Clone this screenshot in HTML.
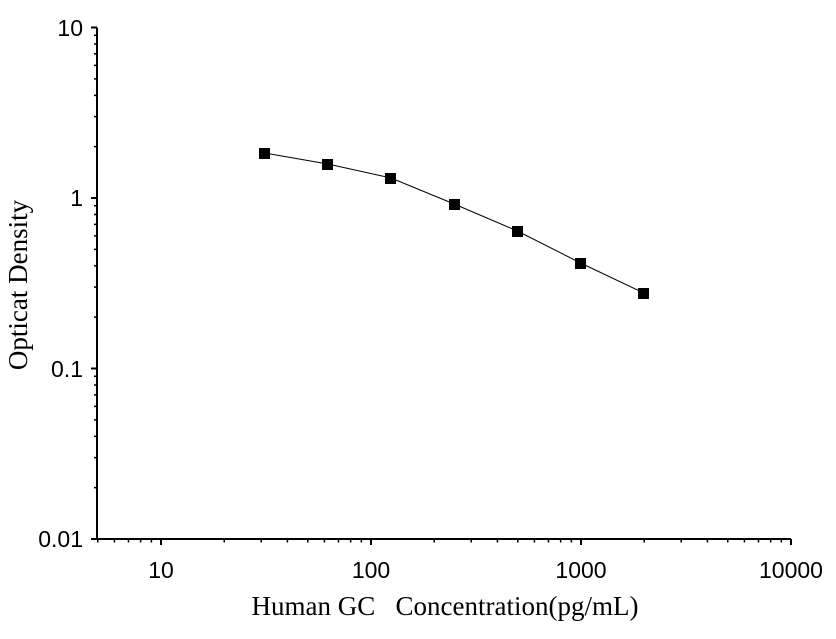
<!DOCTYPE html>
<html><head><style>body{margin:0;background:#fff}</style></head><body>
<svg width="836" height="634" xmlns="http://www.w3.org/2000/svg">
<g stroke="#000" stroke-width="2" fill="none">
<path d="M97,27.5V539H791"/>
<path d="M91,27.5H97M91,198H97M91,368.5H97M91,539H97"/>
<path d="M161,539v6M371,539v6M581,539v6M791,539v6"/>
</g>
<g id="minor" stroke="#000" stroke-width="1.5"></g>
<polyline fill="none" stroke="#000" stroke-width="1" points="264.6,153 327.8,164 391,178 454.2,204 517.4,231 580.6,263 643.8,293"/>
<g fill="#000">
<rect x="259" y="148" width="11" height="11"/><rect x="322" y="159" width="11" height="11"/><rect x="385" y="173" width="11" height="11"/><rect x="449" y="199" width="11" height="11"/><rect x="512" y="226" width="11" height="11"/><rect x="575" y="258" width="11" height="11"/><rect x="638" y="288" width="11" height="11"/>
</g>
<g font-family="Liberation Sans, sans-serif" font-size="23" fill="#000">
<text x="83" y="36" text-anchor="end">10</text>
<text x="83" y="206" text-anchor="end">1</text>
<text x="83" y="377" text-anchor="end">0.1</text>
<text x="83" y="547" text-anchor="end">0.01</text>
<text x="161" y="578" text-anchor="middle">10</text>
<text x="371" y="578" text-anchor="middle">100</text>
<text x="581" y="578" text-anchor="middle">1000</text>
<text x="791" y="578" text-anchor="middle">10000</text>
</g>
<g font-family="Liberation Serif, serif" font-size="27" fill="#000">
<text x="445" y="615" text-anchor="middle" xml:space="preserve">Human GC   Concentration(pg/mL)</text>
<text transform="translate(27,285) rotate(-90)" text-anchor="middle">Opticat Density</text>
</g>
</svg>
<script>
var g=document.getElementById('minor'),s='';
for(var d=0;d<4;d++)for(var k=2;k<=9;k++){var lv=d+Math.log10(k);var y=539-170.5*lv;s+='M94,'+y+'H97';}
for(var d=0;d<4;d++)for(var k=2;k<=9;k++){var v=Math.pow(10,d)*k;if(v<5)continue;var x=161+210*(Math.log10(v)-1);if(x>791)continue;s+='M'+x+',539v3.5';}
g.innerHTML='<path d="'+s+'" stroke="#000" stroke-width="1.5" fill="none"/>';
</script>
</body></html>
